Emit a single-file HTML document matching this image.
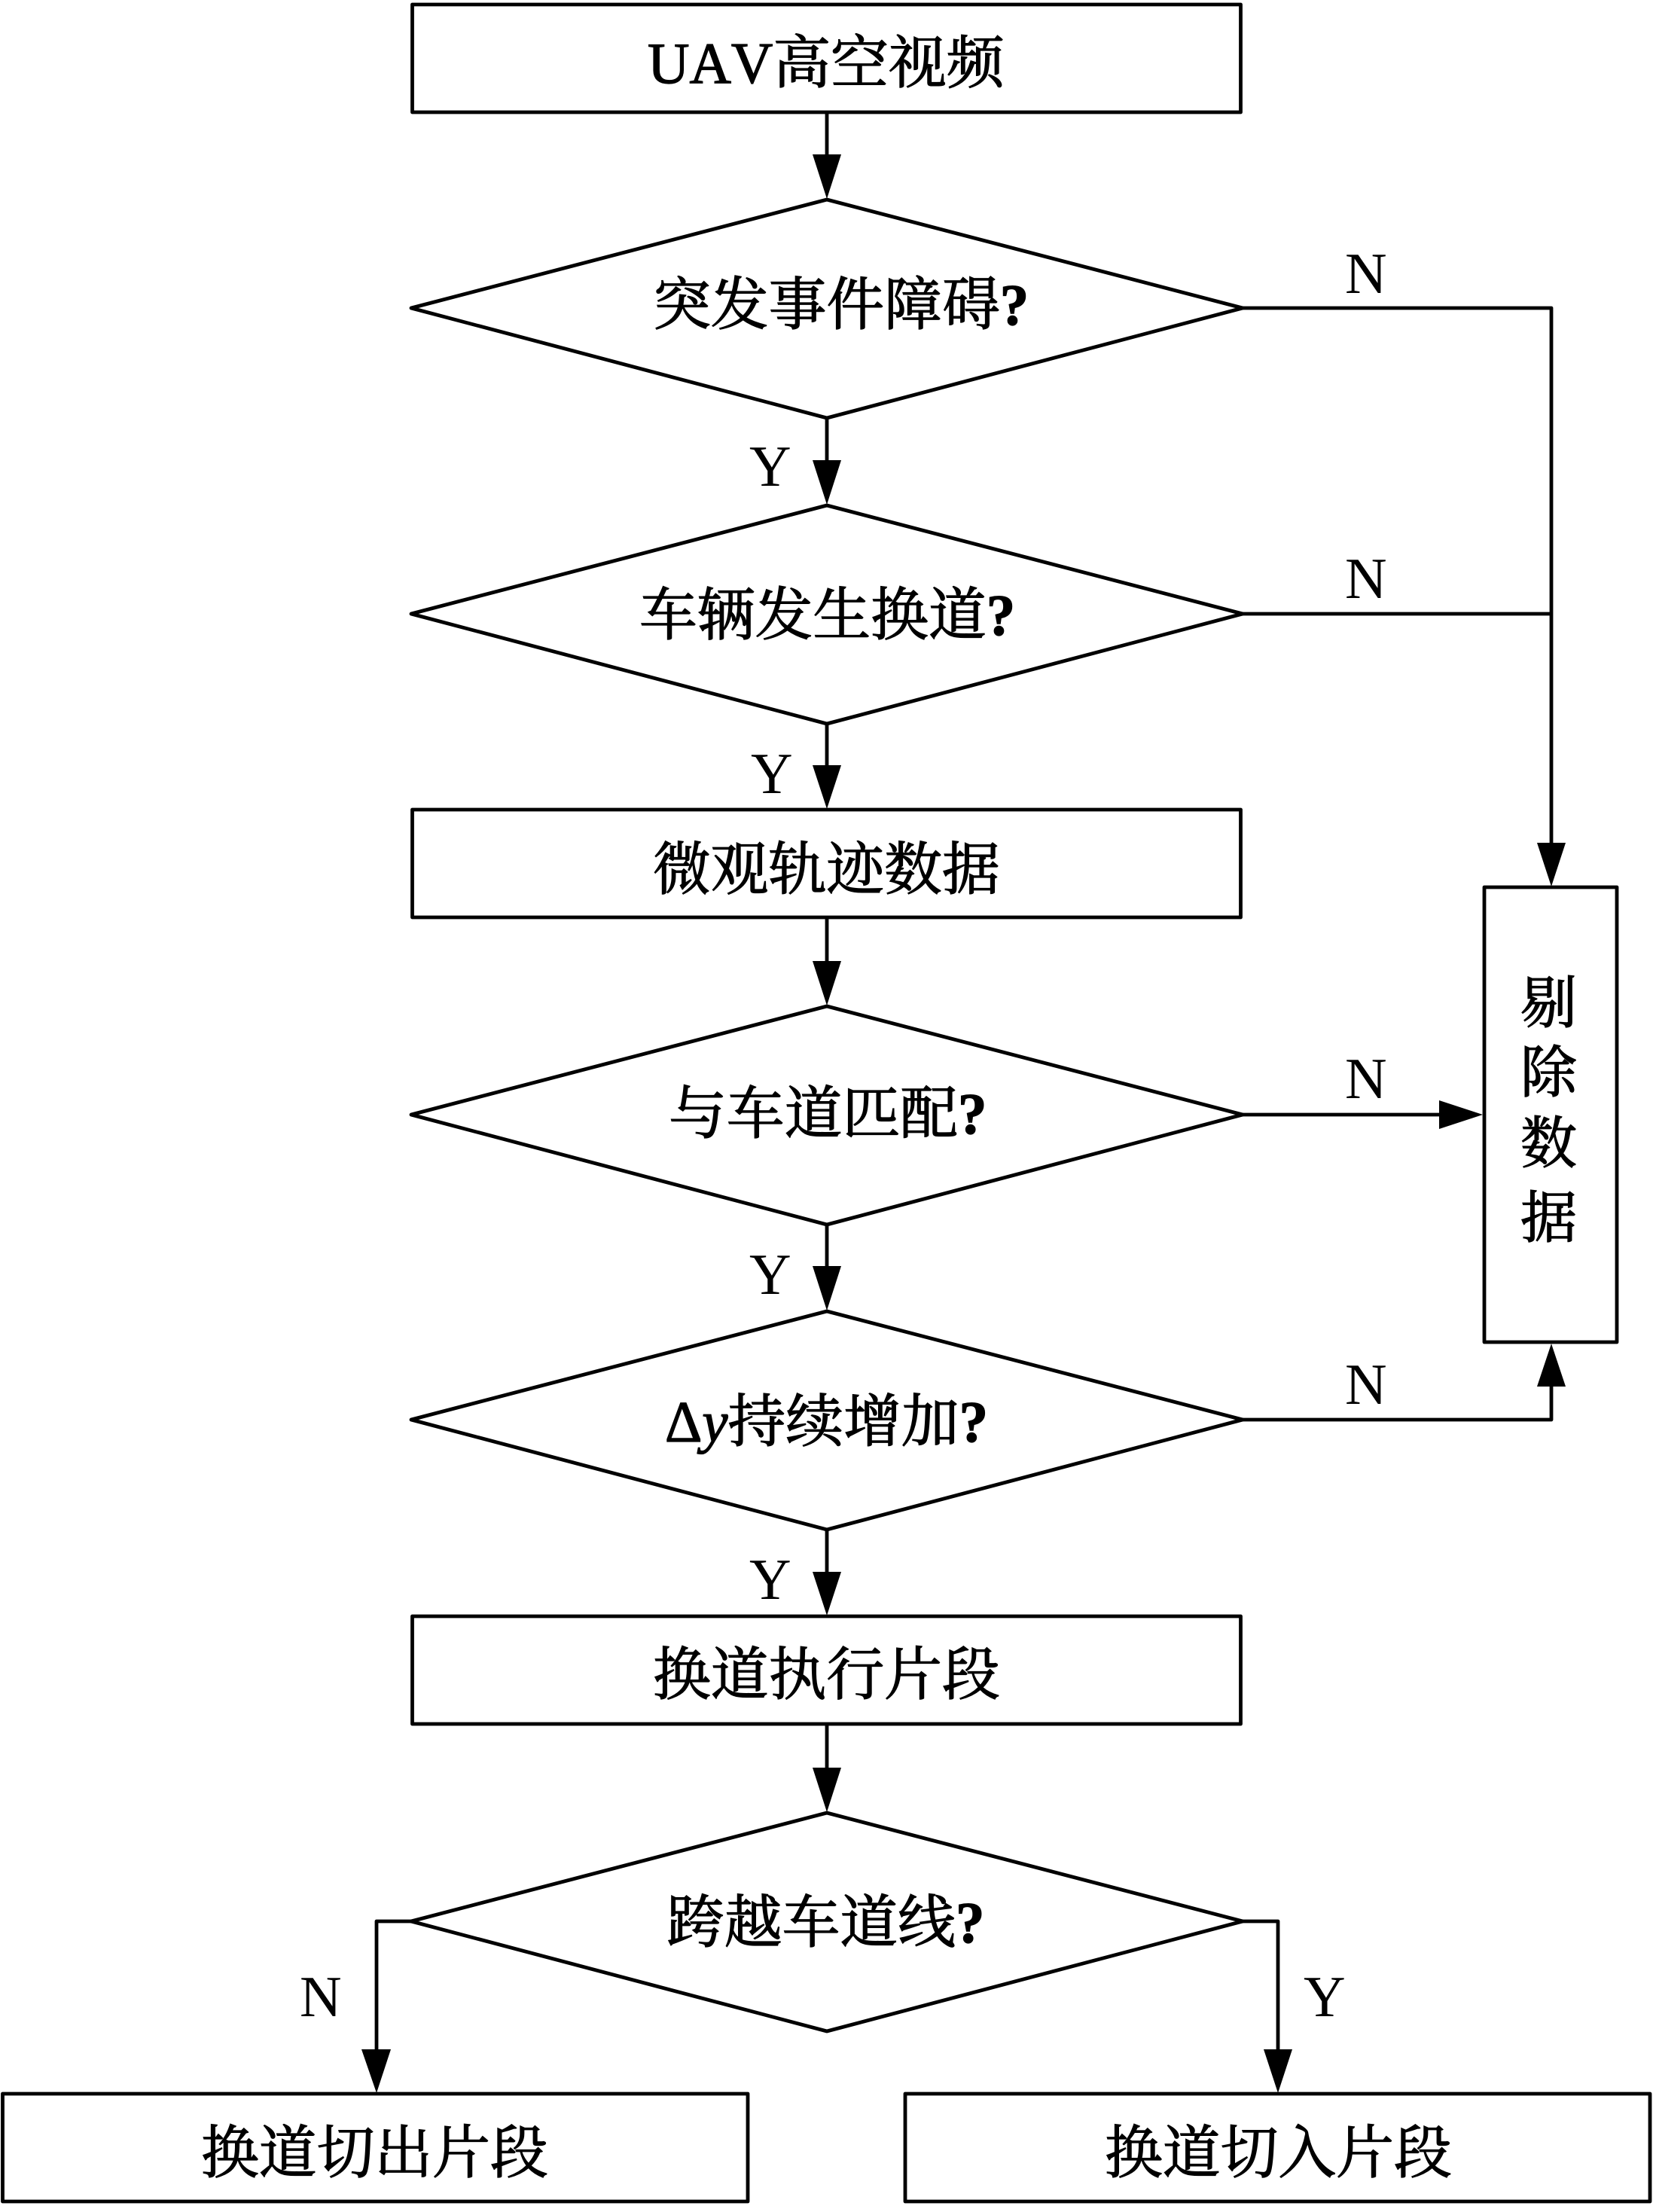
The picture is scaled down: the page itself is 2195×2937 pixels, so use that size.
<!DOCTYPE html>
<html>
<head>
<meta charset="utf-8">
<style>
html,body{margin:0;padding:0;background:#fff;width:2195px;height:2937px;overflow:hidden}
svg{display:block}
text{font-family:"Liberation Serif","Noto Serif CJK SC",serif;font-size:76.8px;fill:#000;stroke:#000;stroke-width:1.3px;font-kerning:none}
.l{stroke-width:0;font-size:77px}
.s{fill:none;stroke:#000;stroke-width:4.8;stroke-linejoin:round}
.a{fill:#000;stroke:none}
.q{font-weight:700}
</style>
</head>
<body>
<svg width="2195" height="2937" viewBox="0 0 2195 2937" xmlns="http://www.w3.org/2000/svg">
<rect x="0" y="0" width="2195" height="2937" fill="#fff"/>
<!-- boxes -->
<rect class="s" x="547.5" y="6" width="1100" height="143"/>
<rect class="s" x="547.5" y="1075" width="1100" height="143"/>
<rect class="s" x="547.5" y="2146" width="1100" height="143"/>
<rect class="s" x="1971" y="1178" width="176" height="604"/>
<rect class="s" x="3.5" y="2780" width="989.5" height="143"/>
<rect class="s" x="1202" y="2780" width="989" height="143"/>
<!-- diamonds -->
<polygon class="s" points="1098,265 1650,409 1098,555 546,409"/>
<polygon class="s" points="1098,671 1650,815 1098,961 546,815"/>
<polygon class="s" points="1098,1336 1650,1480 1098,1626 546,1480"/>
<polygon class="s" points="1098,1741 1650,1885 1098,2031 546,1885"/>
<polygon class="s" points="1098,2407 1650,2551 1098,2697 546,2551"/>
<!-- vertical connectors -->
<path class="s" d="M1098,149V210M1098,555V616M1098,961V1020M1098,1218V1280M1098,1626V1685M1098,2031V2090M1098,2289V2350"/>
<!-- right connectors -->
<path class="s" d="M1650,409H2060V1125M1650,815H2060M1650,1480H1915M1650,1885H2060V1835"/>
<!-- bottom connectors -->
<path class="s" d="M546,2551H500V2725M1650,2551H1697V2725"/>
<!-- arrowheads -->
<polygon class="a" points="1079,205 1117,205 1098,264"/>
<polygon class="a" points="1079,611 1117,611 1098,670"/>
<polygon class="a" points="1079,1016 1117,1016 1098,1074"/>
<polygon class="a" points="1079,1276 1117,1276 1098,1335"/>
<polygon class="a" points="1079,1681 1117,1681 1098,1740"/>
<polygon class="a" points="1079,2087 1117,2087 1098,2145"/>
<polygon class="a" points="1079,2347 1117,2347 1098,2406"/>
<polygon class="a" points="2041,1119 2079,1119 2060,1177"/>
<polygon class="a" points="2041,1841 2079,1841 2060,1784"/>
<polygon class="a" points="1911,1461 1911,1499 1969,1480"/>
<polygon class="a" points="480,2721 519,2721 500,2779"/>
<polygon class="a" points="1678,2721 1716,2721 1697,2779"/>
<!-- node text -->
<text x="860" y="110">UAV高空视频</text>
<text x="867" y="431">突发事件障碍<tspan class="q">?</tspan></text>
<text x="849" y="843">车辆发生换道<tspan class="q">?</tspan></text>
<text x="867" y="1181">微观轨迹数据</text>
<text x="888" y="1505">与车道匹配<tspan class="q">?</tspan></text>
<text x="883" y="1914">Δ<tspan font-style="italic">y</tspan>持续增加<tspan class="q">?</tspan></text>
<text x="867" y="2250">换道执行片段</text>
<text x="885" y="2579">跨越车道线<tspan class="q">?</tspan></text>
<text x="267" y="2885">换道切出片段</text>
<text x="1467" y="2885">换道切入片段</text>
<text x="2019" y="1358" style="font-size:75px">剔</text>
<text x="2019" y="1450" style="font-size:75px">除</text>
<text x="2019" y="1544" style="font-size:75px">数</text>
<text x="2019" y="1643" style="font-size:75px">据</text>
<!-- labels -->
<text class="l" x="1786" y="389">N</text>
<text class="l" x="1786" y="794">N</text>
<text class="l" x="1786" y="1458">N</text>
<text class="l" x="1786" y="1864">N</text>
<text class="l" x="995" y="645">Y</text>
<text class="l" x="997" y="1053">Y</text>
<text class="l" x="995" y="1718">Y</text>
<text class="l" x="995" y="2123">Y</text>
<text class="l" x="398" y="2677">N</text>
<text class="l" x="1731" y="2677">Y</text>
</svg>
</body>
</html>
